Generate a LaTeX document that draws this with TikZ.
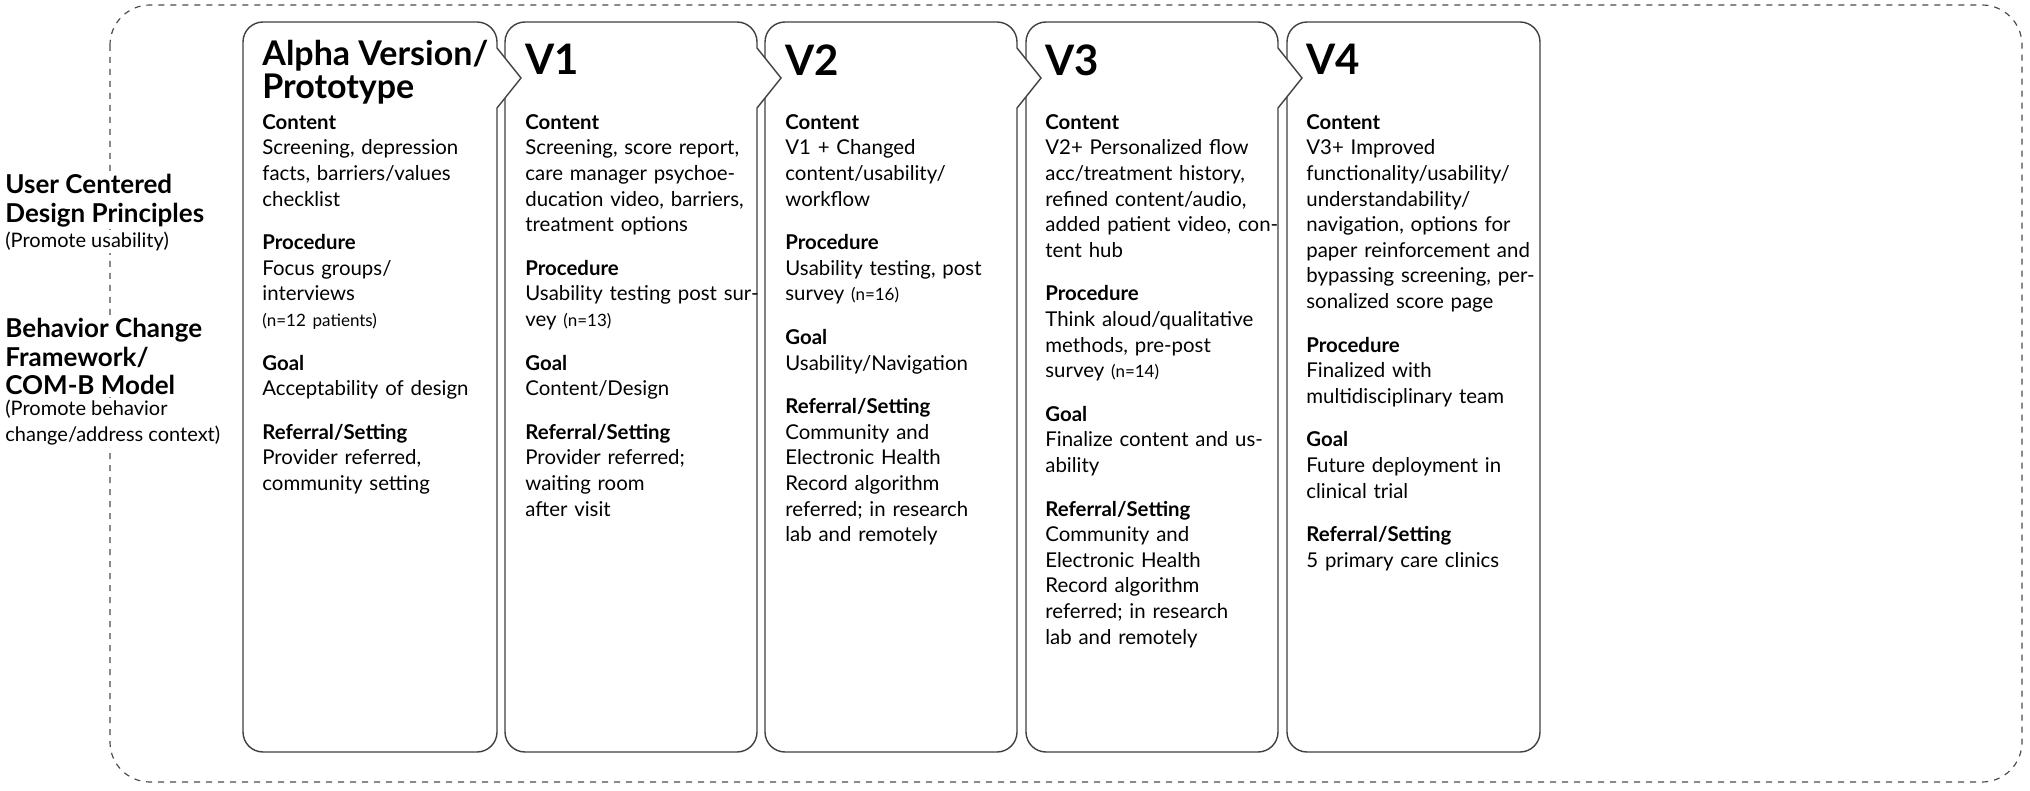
\documentclass[tikz,border=0pt]{standalone}
\usepackage{fontspec}
\setmainfont{Lato}
\begin{document}
\begin{tikzpicture}[x=0.5pt,y=-0.5pt,
  boxst/.style={draw=black!75,line width=0.7pt,fill=white},
  ttl/.style={anchor=north west,inner sep=0pt,font=\bfseries\fontsize{17}{16.5}\selectfont,align=left},
  vttl/.style={anchor=north west,inner sep=0pt,font=\bfseries\fontsize{21}{22}\selectfont},
  body/.style={anchor=north west,inner sep=0pt,text width=118pt,align=left,font=\fontsize{10.2}{12.8}\selectfont},
  sidehd/.style={anchor=north west,inner sep=1pt,fill=white,align=left,font=\bfseries\fontsize{13}{14.3}\selectfont},
  sidesm/.style={anchor=north west,inner sep=1pt,fill=white,align=left,font=\fontsize{10}{13}\selectfont}]
\useasboundingbox (0,0) rectangle (2030,791);
\newcommand{\hd}[1]{{\bfseries #1}\par}
\newcommand{\gap}{\par\vspace{9pt}}
\draw[dashed,black!70,line width=0.6pt,rounded corners=20pt] (110,5) rectangle (2022,782);
% side labels
\node[sidehd] (ucd) at (3,172) {User Centered\\Design Principles};
\node[sidesm] (ucds) at (ucd.south west) {(Promote usability)};
\node[sidehd] (bcf) at (3,316) {Behavior Change\\Framework/\\COM-B Model};
\node[sidesm] (bcfs) at (bcf.south west) {(Promote behavior\\change/address context)};
% boxes (right to left)
\filldraw[boxst,rounded corners=10pt] (1287,22) rectangle (1540,752);
\foreach \a/\b in {1026/1278,765/1017,505/757,243/497}{
  \filldraw[boxst] (\a,400) [rounded corners=10pt] -- (\a,22) -- (\b,22) [sharp corners] -- (\b,48) -- (\b+24,78) -- (\b,108) [rounded corners=10pt] -- (\b,752) -- (\a,752) [sharp corners] -- cycle;
}
% titles
\node[ttl] (t0) at (262,40) {Alpha Version/\\Prototype};
\node[vttl] (t1) at (525,44) {V1};
\node[vttl] (t2) at (785,44) {V2};
\node[vttl] (t3) at (1045,44) {V3};
\node[vttl] (t4) at (1306,44) {V4};
% bodies
\node[body] (b0) at (262,114) {\hd{Content}Screening, depression facts, barriers/values checklist\gap
\hd{Procedure}Focus groups/\newline interviews\par{\fontsize{8.5}{12.8}\selectfont(n=12 patients)}\gap
\hd{Goal}Acceptability of design\gap
\hd{Referral/Setting}Provider referred,\newline community setting};
\node[body] (b1) at (525,114) {\hd{Content}Screening, score report, care manager psychoeducation video, barriers, treatment options\gap
\hd{Procedure}Usability testing post survey {\fontsize{8.5}{12.8}\selectfont(n=13)}\gap
\hd{Goal}Content/Design\gap
\hd{Referral/Setting}Provider referred;\newline waiting room\newline after visit};
\node[body] (b2) at (785,114) {\hd{Content}V1 + Changed\newline content/usability/\newline workflow\gap
\hd{Procedure}Usability testing, post survey {\fontsize{8.5}{12.8}\selectfont(n=16)}\gap
\hd{Goal}Usability/Navigation\gap
\hd{Referral/Setting}Community and\newline Electronic Health\newline Record algorithm\newline referred; in research\newline lab and remotely};
\node[body] (b3) at (1045,114) {\hd{Content}V2+ Personalized flow acc/treatment history, refined content/audio, added patient video, content hub\gap
\hd{Procedure}Think aloud/qualitative methods, pre-post\newline survey {\fontsize{8.5}{12.8}\selectfont(n=14)}\gap
\hd{Goal}Finalize content and usability\gap
\hd{Referral/Setting}Community and\newline Electronic Health\newline Record algorithm\newline referred; in research\newline lab and remotely};
\node[body] (b4) at (1306,114) {\hd{Content}V3+ Improved\newline functionality/usability/\newline understandability/\newline navigation, options for paper reinforcement and bypassing screening, personalized score page\gap
\hd{Procedure}Finalized with\newline multidisciplinary team\gap
\hd{Goal}Future deployment in clinical trial\gap
\hd{Referral/Setting}5 primary care clinics};
\end{tikzpicture}
\end{document}
